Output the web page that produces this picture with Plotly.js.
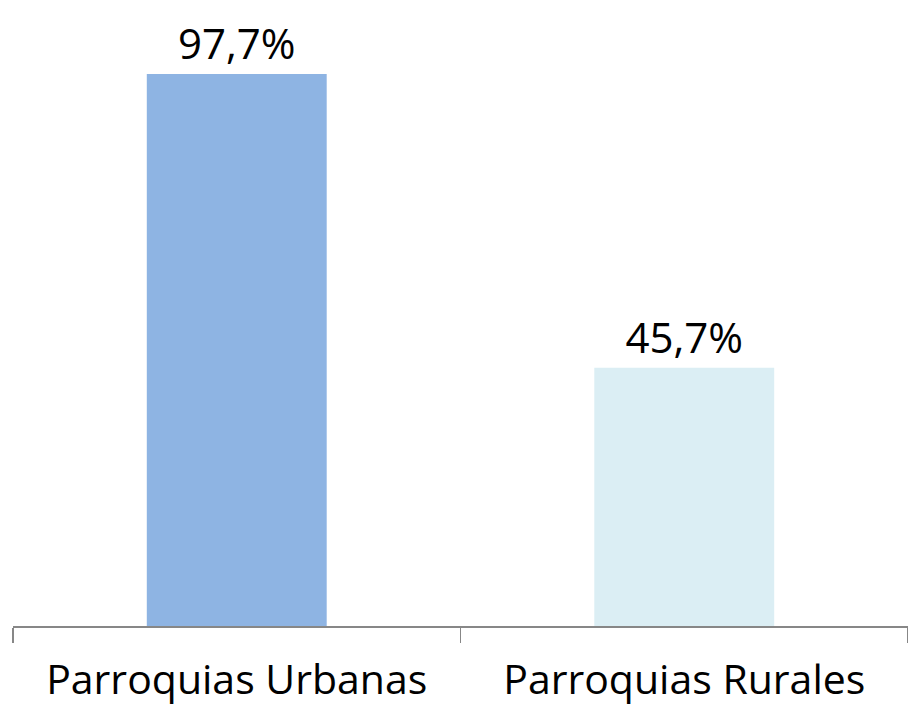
<!DOCTYPE html>
<html><head><meta charset="utf-8">
<script src="https://cdn.plot.ly/plotly-3.0.1.min.js"></script>
<style>body{margin:0;background:#fff}#c{width:908px;height:709px}</style>
</head><body><div id="c"></div>
<script>
const categories = ["Parroquias Urbanas", "Parroquias Rurales"];
const values = [97.7, 45.7];
const labels = ["97,7%", "45,7%"];
const colors = ["#8EB4E3", "#DBEEF4"];

const trace = {
  type: "bar",
  x: categories,
  y: values,
  text: labels,
  textposition: "outside",
  texttemplate: "%{text}",
  cliponaxis: false,
  textfont: {family: "Open Sans, Noto Sans, sans-serif", size: 42, color: "#000"},
  marker: {color: colors, line: {width: 0}},
  width: 0.402,
  hoverinfo: "none"
};

const layout = {
  width: 908, height: 709,
  margin: {l: 13, r: 0, t: 0, b: 83},
  paper_bgcolor: "#fff", plot_bgcolor: "#fff",
  showlegend: false,
  xaxis: {
    showline: true, linecolor: "#878787", linewidth: 1.5,
    ticks: "outside", tickson: "boundaries", ticklen: 15, tickcolor: "#878787", tickwidth: 1.5,
    tickfont: {family: "Open Sans, Noto Sans, sans-serif", size: 41, color: "#000"},
    ticklabelstandoff: 17,
    showgrid: false, zeroline: false
  },
  yaxis: {range: [0, 110.8], visible: false, showgrid: false, zeroline: false}
};
Plotly.newPlot("c", [trace], layout, {staticPlot: true, displayModeBar: false});
</script></body></html>
